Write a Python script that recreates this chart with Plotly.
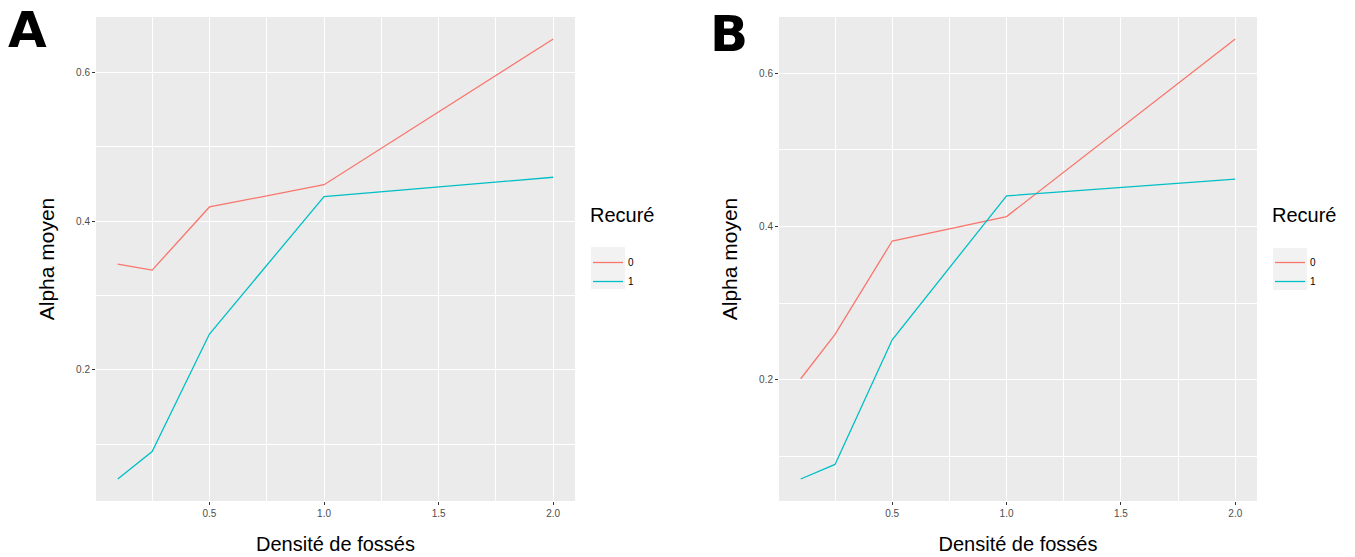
import plotly.graph_objects as go

# Data
densite = [0.1, 0.25, 0.5, 1.0, 2.0]
a_recure0 = [0.342, 0.334, 0.419, 0.449, 0.645]
a_recure1 = [0.053, 0.090, 0.248, 0.433, 0.459]
b_recure0 = [0.201, 0.259, 0.381, 0.413, 0.645]
b_recure1 = [0.070, 0.089, 0.252, 0.440, 0.462]
series_names = ["0", "1"]
colors = ["#F8766D", "#00BFC4"]
x_ticks = [0.5, 1.0, 1.5, 2.0]
x_ticklabels = ["0.5", "1.0", "1.5", "2.0"]
y_ticks = [0.2, 0.4, 0.6]
y_ticklabels = ["0.2", "0.4", "0.6"]

W, H = 1355, 557
FONT = "Liberation Sans, Arial, sans-serif"

fig = go.Figure()

for vals, name, col in zip([a_recure0, a_recure1], series_names, colors):
    fig.add_trace(go.Scatter(x=densite, y=vals, mode="lines", name=name,
                             line=dict(color=col, width=1.3),
                             xaxis="x", yaxis="y", legend="legend"))
for vals, name, col in zip([b_recure0, b_recure1], series_names, colors):
    fig.add_trace(go.Scatter(x=densite, y=vals, mode="lines", name=name,
                             line=dict(color=col, width=1.3),
                             xaxis="x2", yaxis="y2", legend="legend2"))

def rng(data_lists):
    allv = [v for l in data_lists for v in l]
    mn, mx = min(allv), max(allv)
    e = (mx - mn) * 0.05
    return [mn - e, mx + e]

xr = rng([densite])
ya = rng([a_recure0, a_recure1])
yb = rng([b_recure0, b_recure1])

ydom = [1 - 501 / H, 1 - 17 / H]

def xaxis(domain, anchor):
    return dict(domain=domain, anchor=anchor, range=xr,
                tickvals=x_ticks, ticktext=x_ticklabels,
                ticks="outside", ticklen=3, tickcolor="#333333", tickwidth=1,
                tickfont=dict(size=10, color="#4d4d4d", family=FONT),
                showgrid=True, gridcolor="white", gridwidth=1.2,
                minor=dict(dtick=0.25, tick0=0, showgrid=True, gridcolor="white", gridwidth=0.5),
                zeroline=False, showline=False,
                title=dict(text="Densité de fossés", font=dict(size=20, color="black", family=FONT), standoff=18))

def yaxis(domain, anchor, r):
    return dict(domain=domain, anchor=anchor, range=r,
                tickvals=y_ticks, ticktext=y_ticklabels,
                ticks="outside", ticklen=3, tickcolor="#333333", tickwidth=1,
                tickfont=dict(size=10, color="#4d4d4d", family=FONT),
                showgrid=True, gridcolor="white", gridwidth=1.2,
                minor=dict(dtick=0.1, tick0=0, showgrid=True, gridcolor="white", gridwidth=0.5),
                zeroline=False, showline=False,
                title=dict(text="Alpha moyen", font=dict(size=21, color="black", family=FONT), standoff=15))

def legend_def(x_px):
    return dict(x=x_px / W, y=1 - 196 / H, xanchor="left", yanchor="top",
                title=dict(text="Recuré<br><span style='font-size:6px'> </span>",
                           font=dict(size=20, color="black", family=FONT)),
                font=dict(size=10, color="black", family=FONT),
                bgcolor="rgba(0,0,0,0)", tracegroupgap=0, itemwidth=30)

def key_box(x0, x1, y0, y1):
    return dict(type="rect", xref="paper", yref="paper",
                x0=x0 / W, x1=x1 / W, y0=1 - y1 / H, y1=1 - y0 / H,
                fillcolor="#F2F2F2", line=dict(width=0), layer="below")

fig.update_layout(
    width=W, height=H,
    margin=dict(l=0, r=0, t=0, b=0),
    paper_bgcolor="white",
    plot_bgcolor="#EBEBEB",
    font=dict(family=FONT),
    xaxis=xaxis([96 / W, 575 / W], "y"),
    yaxis=yaxis(ydom, "x", ya),
    xaxis2=xaxis([779 / W, 1257 / W], "y2"),
    yaxis2=yaxis(ydom, "x2", yb),
    legend=legend_def(588),
    legend2=legend_def(1270),
    shapes=[key_box(591, 625, 247, 289), key_box(1273, 1307, 248, 290)],
    annotations=[
        dict(text="<b>A</b>", x=27 / W, y=1 - 30 / H, xref="paper", yref="paper",
             showarrow=False, font=dict(size=50, color="black", family="DejaVu Sans, Arial"),
             xanchor="center", yanchor="middle"),
        dict(text="<b>B</b>", x=729 / W, y=1 - 34 / H, xref="paper", yref="paper",
             showarrow=False, font=dict(size=50, color="black", family="DejaVu Sans, Arial"),
             xanchor="center", yanchor="middle"),
    ],
)

fig.write_html("out.html")
